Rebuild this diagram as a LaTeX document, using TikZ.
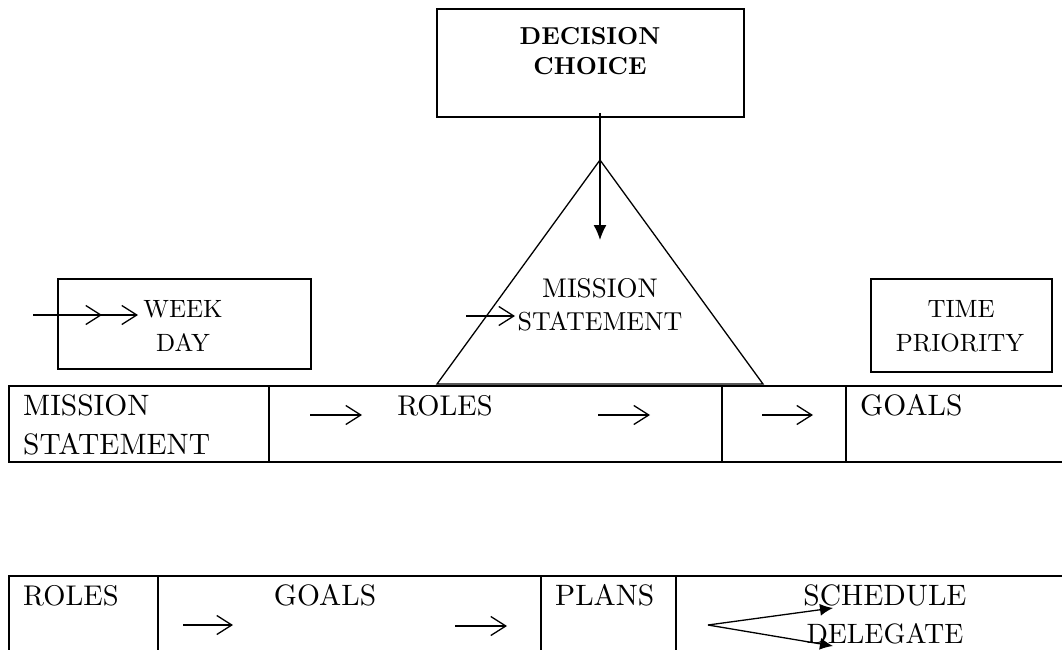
\documentclass[tikz,border=0pt]{standalone}
\usepackage{fontspec}
\setmainfont{lmroman10-regular}[Extension=.otf, BoldFont=lmroman10-bold, ItalicFont=lmroman10-italic]
\usetikzlibrary{arrows.meta}
\begin{document}
\begin{tikzpicture}[x=1pt,y=-1pt,
  txt/.style={inner sep=0pt,anchor=base,font=\fontsize{29.5}{31}\selectfont},
  txtw/.style={inner sep=0pt,anchor=base west,font=\fontsize{29.5}{31}\selectfont},
  boxtxt/.style={inner sep=0pt,anchor=base,font=\fontsize{25}{27}\selectfont},
  boldtxt/.style={inner sep=0pt,anchor=base,font=\fontsize{24.5}{27}\selectfont\bfseries},
  frame/.style={draw,line width=1.4pt},
  grid/.style={draw,line width=1.8pt},
  tri/.style={draw,line width=1.3pt},
  tarrow/.style={line width=1.3pt,-{Straight Barb[length=15pt,width=19pt,line width=1.3pt]}},
  farrow/.style={line width=1.3pt,-{Latex[length=15pt,width=13pt]}}
]
\useasboundingbox (0,0) rectangle (1062,650);

% DECISION CHOICE box
\draw[frame] (437,9) rectangle (744,117);
\node[boldtxt] (dec1) at (590,45) {DECISION};
\node[boldtxt] (dec2) at (590,75) {CHOICE};

% triangle
\draw[tri] (437,384) coordinate (tl) -- (600,160) coordinate (apex) -- (763,384) coordinate (tr) -- cycle;
\node[txt,font=\fontsize{27}{29}\selectfont] (ms1) at (600,297) {MISSION};
\node[txt,font=\fontsize{26}{28}\selectfont] (ms2) at (600,330) {STATEMENT};
\coordinate (dstart) at (600,113);
\coordinate (dend) at (600,240);
\draw[farrow] (dstart) -- (dend);
\coordinate (ta1) at (466,316);
\coordinate (ta2) at (515,316);
\draw[tarrow] (ta1) -- (ta2);

% WEEK DAY box
\draw[frame] (58,279) rectangle (311,369);
\node[boxtxt] (wk) at (183,317) {WEEK};
\node[boxtxt] (dy) at (183,351) {DAY};
\coordinate (wa0) at (33,315);
\coordinate (wa1) at (102,315);
\coordinate (wa2) at (138,315);
\draw[tarrow] (wa0) -- (wa1);
\draw[tarrow] (wa0) -- (wa2);

% TIME PRIORITY box
\draw[frame] (871,279) rectangle (1052,372);
\node[boxtxt] (tm) at (961,317) {TIME};
\node[boxtxt] (pr) at (960,351) {PRIORITY};

% top table
\draw[grid] (1062,386) -- (9,386) -- (9,462) -- (1062,462);
\draw[grid] (269,386) -- (269,462);
\draw[grid] (722,386) -- (722,462);
\draw[grid] (846,386) -- (846,462);
\node[txtw] (t1a) at (23,415) {MISSION};
\node[txtw] (t1b) at (23,454) {STATEMENT};
\node[txt,font=\fontsize{28.5}{30}\selectfont] (t1r) at (445,415) {ROLES};
\node[txtw] (t1g) at (860,415) {GOALS};
\coordinate (r1a) at (310,415); \coordinate (r1b) at (362,415);
\coordinate (r2a) at (598,415); \coordinate (r2b) at (650,415);
\coordinate (r3a) at (762,415); \coordinate (r3b) at (813,415);
\draw[tarrow] (r1a) -- (r1b);
\draw[tarrow] (r2a) -- (r2b);
\draw[tarrow] (r3a) -- (r3b);

% bottom table
\draw[grid] (1062,576) -- (9,576) -- (9,650);
\draw[grid] (158,576) -- (158,650);
\draw[grid] (541,576) -- (541,650);
\draw[grid] (676,576) -- (676,650);
\node[txtw,font=\fontsize{28.5}{30}\selectfont] (b1) at (23,605) {ROLES};
\node[txt] (b2) at (325,605) {GOALS};
\node[txtw] (b3) at (555,605) {PLANS};
\node[txt] (b4) at (885,605) {SCHEDULE};
\node[txt,font=\fontsize{28}{30}\selectfont] (b5) at (885,643) {DELEGATE};
\coordinate (g1a) at (183,625); \coordinate (g1b) at (233,625);
\coordinate (g2a) at (455,626); \coordinate (g2b) at (507,626);
\draw[tarrow] (g1a) -- (g1b);
\draw[tarrow] (g2a) -- (g2b);
\coordinate (sd) at (708,625);
\coordinate (su) at (833,608);
\coordinate (sl) at (833,646);
\draw[line width=1.3pt,-{Latex[length=13pt,width=12pt]}] (sd) -- (su);
\draw[line width=1.3pt,-{Latex[length=13pt,width=12pt]}] (sd) -- (sl);
\end{tikzpicture}
\end{document}
